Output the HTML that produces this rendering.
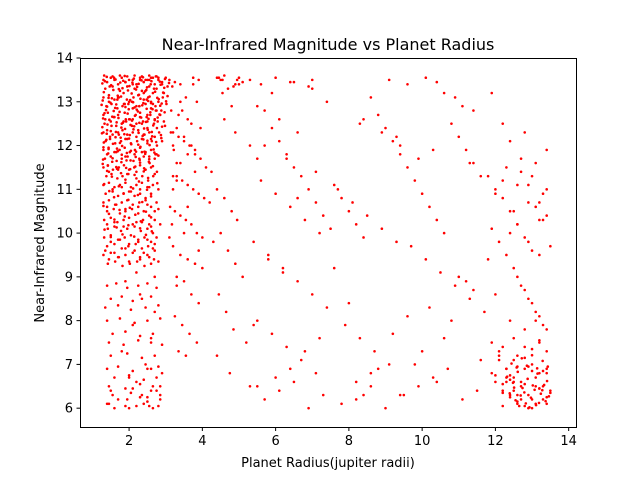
<!DOCTYPE html>
<html><head><meta charset="utf-8"><style>
body{margin:0;background:#fff;width:640px;height:480px;overflow:hidden}
svg text{font-family:"DejaVu Sans","Liberation Sans",sans-serif;fill:#000}
</style></head><body>
<svg id="chart" width="640" height="480">
<rect x="0" y="0" width="640" height="480" fill="#fff"/>
<text x="328" y="50" font-size="16" text-anchor="middle">Near-Infrared Magnitude vs Planet Radius</text>
<g id="pts"></g>
<rect x="80.5" y="58.5" width="496" height="369" fill="none" stroke="#000" stroke-width="1"/>
<g id="xt"></g>
<g id="yt"></g>
<text x="328" y="467" font-size="13" text-anchor="middle">Planet Radius(jupiter radii)</text>
<text x="44" y="243" font-size="13" text-anchor="middle" transform="rotate(-90 44 243)">Near-Infrared Magnitude</text>
</svg>
<script>
const xTicks=[2,4,6,8,10,12,14];
const yTicks=[6,7,8,9,10,11,12,13,14];
const xs=[
1.3,1.4,1.5,1.6,1.7,1.8,1.9,2.0,2.1,2.2,2.3,2.4,2.5,2.6,2.7,2.8,2.9,3.0,3.1,1.35,1.55,1.75,1.95,2.15,2.35,2.55,2.75,2.95,3.05,
1.3,1.45,1.6,1.72,1.85,2.0,2.12,2.25,2.4,2.52,2.65,2.8,2.92,1.38,1.52,1.68,1.82,1.98,2.1,2.28,2.45,2.6,2.72,2.88,3.02,
1.3,1.42,1.58,1.7,1.88,2.02,2.18,2.3,2.48,2.58,2.7,2.85,1.33,1.5,1.65,1.8,1.92,2.08,2.2,2.38,2.5,2.68,2.78,2.98,
1.3,1.4,1.55,1.7,1.82,1.95,2.1,2.25,2.42,2.55,2.7,2.82,1.36,1.48,1.62,1.78,1.9,2.05,2.22,2.35,2.5,2.62,2.76,2.9,
1.3,1.44,1.6,1.74,1.88,2.02,2.16,2.3,2.45,2.6,2.72,1.34,1.5,1.66,1.8,1.96,2.12,2.28,2.4,2.56,2.7,
1.3,1.42,1.56,1.72,1.86,2.0,2.14,2.3,2.44,2.6,2.76,1.38,1.52,1.68,1.82,1.98,2.2,2.36,2.52,2.66,
1.3,1.45,1.6,1.75,1.9,2.05,2.2,2.35,2.5,2.65,2.8,1.36,1.55,1.7,1.85,2.0,2.15,2.3,2.45,2.6,
1.3,1.45,1.62,1.8,1.95,2.1,2.28,2.45,2.6,2.75,1.4,1.58,1.75,1.9,2.08,2.25,2.4,2.55,2.7,
1.32,1.5,1.68,1.85,2.0,2.2,2.38,2.55,2.7,1.42,1.6,1.78,1.95,2.15,2.32,2.5,2.65,
1.32,1.5,1.7,1.88,2.05,2.25,2.42,2.6,2.75,1.4,1.6,1.8,1.98,2.18,2.35,2.52,2.7,
1.3,1.5,1.72,1.9,2.1,2.3,2.5,2.68,1.42,1.62,1.82,2.02,2.22,2.42,2.6,
1.32,1.55,1.75,1.95,2.15,2.35,2.55,2.75,1.45,1.68,1.88,2.08,2.28,2.48,2.65,
1.35,1.6,1.85,2.1,2.3,2.5,2.7,1.48,1.72,1.95,2.2,2.4,2.6,1.4,1.65,1.9,2.15,2.35,2.55,2.75,
1.45,1.7,1.95,2.2,2.45,2.7,1.55,1.8,2.05,2.3,2.55,1.4,1.65,1.9,2.25,2.5,2.8,
1.4,1.6,1.85,2.1,2.35,2.6,2.85,1.5,1.75,2.0,2.25,2.5,2.7,
1.35,1.6,1.9,2.15,2.4,2.65,1.45,1.7,2.0,2.3,2.55,2.8,
1.4,1.65,1.95,2.25,2.5,2.75,1.5,1.8,2.1,2.35,2.6,1.35,1.7,2.05,2.45,2.8,
1.4,1.75,2.15,2.5,2.85,1.55,1.9,2.3,2.65,1.45,1.85,2.25,2.6,2.9,1.5,1.95,2.35,2.7,
1.4,1.7,2.1,2.5,2.8,1.6,2.0,2.4,2.75,1.45,1.9,2.3,2.65,1.55,2.05,2.5,2.85,
1.45,1.9,2.4,2.8,1.6,2.2,2.65,1.4,2.0,2.55,1.7,2.3,2.85,1.5,2.1,2.6,
1.9,2.3,2.7,2.1,2.6,1.8,2.45,2.9,2.2,2.75,1.95,2.5,2.35,2.85,2.0,2.6,
2.2,2.7,2.45,2.9,2.3,2.65,1.9,2.55,2.1,2.8,2.4,1.7,2.6,2.2,2.75,2.5,2.0,2.35,
3.2,3.35,3.5,3.65,3.8,3.95,4.1,4.25,3.3,3.45,3.6,3.75,3.9,4.05,4.2,3.25,3.4,3.55,3.7,3.85,4.0,4.3,
3.2,3.4,3.6,3.8,4.0,3.3,3.5,3.7,3.9,3.25,3.45,3.65,3.85,3.35,3.55,3.75,3.95,3.3,3.6,3.9,3.4,3.7,3.2,3.5,3.8,
3.3,3.6,3.9,3.4,3.75,3.25,3.55,3.85,3.45,3.35,3.7,3.3,3.5,3.2,3.6,3.4,3.8,3.3,
4.4,4.6,4.8,4.95,4.5,4.7,4.9,5.1,4.45,4.65,4.85,5.2,4.4,4.75,5.0,4.55,4.9,4.45,5.1,4.6,4.85,4.5,5.0,4.4,4.7,4.95,4.55,4.8,4.6,4.9,
5.3,5.5,5.7,5.9,6.1,6.3,6.5,6.7,6.9,7.1,7.3,7.5,5.4,5.8,6.2,6.6,7.0,7.4,5.6,6.0,6.4,6.8,7.2,5.5,5.9,6.3,6.7,7.1,
5.3,5.7,6.1,6.5,6.9,7.3,5.5,6.0,6.4,6.8,7.2,5.4,5.8,6.2,6.6,7.0,5.6,6.0,6.5,7.0,5.3,5.9,6.4,6.9,7.4,5.5,6.1,6.6,5.7,6.3,7.1,
7.6,7.8,8.0,8.2,8.4,8.6,8.8,9.0,9.2,9.4,9.6,9.8,10.0,10.2,10.4,10.6,10.8,11.0,11.2,11.4,11.6,
7.7,8.1,8.5,8.9,9.3,9.7,10.1,10.5,10.9,11.3,11.7,7.9,8.3,8.7,9.1,9.5,9.9,10.3,10.7,11.1,11.5,
7.8,8.2,8.6,9.0,9.4,9.8,10.2,10.6,11.0,11.4,7.6,8.0,8.4,8.8,9.2,9.6,10.0,10.4,10.8,11.2,11.6,
8.2,8.6,9.1,9.6,10.1,10.6,11.1,8.4,8.9,9.4,9.9,10.4,10.9,11.4,8.3,9.3,10.3,11.3,
11.8,12.0,12.2,12.4,12.6,12.8,13.0,13.2,13.4,11.9,12.1,12.3,12.5,12.7,12.9,13.1,13.3,13.5,
11.8,12.0,12.2,12.4,12.6,12.8,13.0,13.2,13.4,11.9,12.1,12.3,12.5,12.7,12.9,13.1,13.3,12.0,12.4,12.8,13.2,12.2,12.6,13.0,13.4,
11.9,12.3,12.7,13.1,13.5,12.1,12.5,12.9,13.3,12.0,12.4,12.8,13.2,12.2,12.6,13.0,13.4,
12.0,12.2,12.4,12.6,12.8,13.0,13.2,13.4,12.1,12.3,12.5,12.7,12.9,13.1,13.3,13.5,12.2,12.4,12.6,12.8,13.0,13.2,13.4,
12.3,12.5,12.7,12.9,13.1,13.3,12.4,12.6,12.8,13.0,13.2,13.4,12.2,12.5,12.8,13.1,13.4,12.3,12.6,12.9,13.2,12.4,12.7,13.0,13.3,12.5,12.8,13.1,13.4,12.6,12.9,13.2,
11.9,12.2,12.6,12.9,13.3,12.1,12.5,12.8,13.2,12.0,12.4,12.7,13.1,13.4
];
const ys=[
13.5,13.45,13.55,13.5,13.4,13.55,13.45,13.5,13.5,13.4,13.55,13.45,13.5,13.55,13.4,13.5,13.45,13.55,13.5,13.3,13.35,13.25,13.35,13.3,13.25,13.35,13.3,13.2,13.35,
13.1,13.15,13.05,13.1,13.2,13.0,13.1,13.15,13.05,13.1,13.2,13.0,13.1,12.9,12.95,12.85,12.9,12.95,12.85,12.9,12.95,12.85,12.9,12.8,12.95,
12.7,12.75,12.65,12.7,12.75,12.6,12.7,12.75,12.65,12.7,12.6,12.7,12.5,12.55,12.45,12.5,12.55,12.45,12.5,12.55,12.4,12.5,12.55,12.45,
12.3,12.35,12.25,12.3,12.35,12.25,12.3,12.35,12.25,12.3,12.2,12.3,12.1,12.15,12.05,12.1,12.15,12.05,12.1,12.15,12.05,12.1,12.0,12.1,
11.9,11.95,11.85,11.9,11.95,11.85,11.9,11.95,11.85,11.9,11.8,11.7,11.75,11.65,11.7,11.75,11.65,11.7,11.75,11.6,11.7,
11.5,11.55,11.45,11.5,11.55,11.45,11.5,11.55,11.45,11.5,11.4,11.3,11.35,11.25,11.3,11.35,11.25,11.3,11.2,11.3,
11.1,11.15,11.05,11.1,11.15,11.05,11.1,11.15,11.05,11.1,11.0,10.9,10.95,10.85,10.9,10.95,10.85,10.9,10.8,10.9,
10.7,10.75,10.65,10.7,10.75,10.65,10.7,10.75,10.6,10.7,10.5,10.55,10.45,10.5,10.55,10.45,10.5,10.4,10.5,
10.3,10.35,10.25,10.3,10.35,10.25,10.3,10.2,10.3,10.1,10.15,10.05,10.1,10.15,10.05,10.1,10.0,
9.9,9.95,9.85,9.9,9.95,9.85,9.9,9.8,9.9,9.7,9.75,9.65,9.7,9.75,9.65,9.7,9.6,
9.5,9.55,9.45,9.5,9.55,9.45,9.5,9.4,9.3,9.35,9.25,9.3,9.35,9.25,9.3,
13.6,13.58,13.6,13.58,13.6,13.58,13.6,13.58,13.0,13.05,12.95,13.0,12.9,13.05,12.95,
12.6,12.65,12.55,12.6,12.65,12.55,12.6,12.2,12.25,12.15,12.2,12.25,12.15,11.8,11.85,11.75,11.8,11.85,11.75,11.8,
11.4,11.45,11.35,11.4,11.45,11.35,11.0,11.05,10.95,11.0,11.05,10.6,10.65,10.55,10.6,10.65,10.55,
10.2,10.25,10.15,10.2,10.25,10.15,10.2,9.8,9.85,9.75,9.8,9.85,9.75,
9.6,9.55,9.65,9.6,9.55,9.65,9.4,9.45,9.35,9.4,9.45,9.35,
8.8,8.85,8.75,8.8,8.85,8.75,8.5,8.55,8.45,8.5,8.55,8.3,8.35,8.25,8.3,8.35,
8.0,8.05,7.95,8.0,8.05,7.7,7.75,7.65,7.7,7.5,7.45,7.55,7.5,7.45,7.2,7.25,7.15,7.2,
6.9,6.95,6.85,6.9,6.95,6.7,6.75,6.65,6.7,6.5,6.45,6.55,6.5,6.3,6.35,6.25,6.3,
6.1,6.05,6.1,6.05,6.0,6.05,6.0,6.1,6.0,6.05,6.2,6.25,6.2,6.4,6.45,6.4,
8.9,8.6,8.2,7.9,7.6,7.3,7.0,6.8,6.6,6.4,6.2,6.15,6.3,6.5,6.7,6.9,9.1,9.0,
13.5,13.4,13.5,13.55,13.45,13.5,13.4,13.55,13.2,13.1,13.0,12.9,12.8,12.7,12.6,12.5,12.3,12.2,12.1,12.0,11.9,11.7,
11.5,11.4,11.3,11.2,11.1,11.0,10.9,10.8,10.7,10.5,10.4,10.3,10.2,10.0,9.9,9.8,9.7,9.5,9.4,9.3,9.2,9.0,8.9,8.6,8.4,
8.1,7.9,7.7,7.5,7.3,7.2,13.4,12.4,11.6,10.6,9.6,13.0,12.0,11.0,10.0,11.8,8.8,12.6,
13.5,13.4,13.55,13.45,13.1,13.0,12.8,12.7,12.5,12.4,12.2,12.0,11.8,11.6,11.4,11.2,11.0,10.8,10.5,10.3,10.0,9.6,9.3,9.0,8.6,8.2,7.8,7.5,7.2,6.8,
13.55,13.5,13.4,13.55,13.45,13.6,13.35,13.5,13.4,13.55,13.3,13.5,13.2,12.9,12.6,12.3,12.0,11.7,12.8,12.4,12.1,11.8,11.5,11.3,11.0,10.7,10.4,10.1,
9.8,9.5,9.2,8.9,8.6,8.3,11.2,10.9,10.6,10.3,10.0,8.0,7.7,7.4,7.1,6.8,6.5,6.2,6.4,6.6,6.0,6.3,6.5,6.7,6.9,7.3,7.6,7.9,9.4,9.1,10.8,
13.5,13.4,13.55,13.45,13.3,13.5,13.2,13.45,13.35,13.0,12.9,12.6,12.3,12.0,11.7,11.4,11.1,10.8,10.5,10.2,9.9,
13.1,12.7,12.4,12.1,11.8,11.5,11.2,10.9,10.6,10.3,10.0,12.5,12.2,11.9,11.6,11.3,11.0,10.7,10.4,10.1,9.8,
9.7,9.4,9.1,8.8,8.5,8.2,7.9,7.6,7.3,7.0,6.3,6.5,6.7,6.9,6.2,6.4,6.1,6.6,6.8,6.0,6.3,
7.0,8.3,7.6,9.0,8.7,9.2,8.4,6.3,6.9,7.7,8.1,7.3,6.6,8.0,8.9,7.1,6.2,6.5,
13.5,13.4,13.55,13.2,12.9,12.6,12.3,12.0,11.7,13.45,13.1,12.8,12.5,12.2,11.9,11.6,11.3,11.0,
10.8,10.5,10.2,9.9,9.6,10.7,10.4,10.1,9.8,9.5,9.2,11.4,11.1,10.6,10.3,9.7,9.4,10.9,11.2,10.0,
9.0,8.7,8.4,8.1,7.8,7.5,7.2,6.9,6.6,8.8,8.5,8.2,7.9,8.6,8.0,7.4,6.8,
7.4,7.2,7.0,6.9,6.8,6.7,6.6,6.5,6.4,7.3,7.1,6.95,6.85,6.75,6.65,6.55,6.45,6.35,6.3,6.2,6.1,
6.6,6.4,6.25,6.15,6.05,6.0,7.5,7.3,7.1,6.9,6.7,6.5,6.3,6.1,6.2,6.35,6.55,6.75,6.95,7.15,7.35,7.55,
6.8,6.6,6.4,6.2,6.0,6.7,6.5,6.3,6.1,6.9,6.85,6.45,6.25,6.05,7.6,7.8,8.0,
11.9,11.5,11.1,10.7,10.3,12.1,11.7,11.3,10.9,10.5,12.3,11.6,11.0,10.2,9.8,9.5,13.2,12.5
];
/* additional readings from the densest region, as [radius, magnitude] pairs */
const extraPts=[
[1.27,13.42],[1.39,13.57],[1.51,13.38],[1.63,13.51],[1.76,13.44],[1.88,13.59],[2.01,13.36],[2.13,13.53],[2.26,13.41],[2.38,13.56],[2.49,13.33],[2.61,13.47],[2.73,13.58],[2.86,13.39],[2.98,13.52],[3.09,13.43],
[1.31,13.22],[1.44,13.09],[1.57,13.27],[1.69,13.14],[1.82,13.31],[1.94,13.05],[2.07,13.19],[2.19,13.28],[2.31,13.07],[2.44,13.24],[2.56,13.12],[2.68,13.3],[2.81,13.06],[2.93,13.21],[3.05,13.13],
[1.25,12.93],[1.37,12.81],[1.49,12.98],[1.62,12.86],[1.74,12.77],[1.86,12.95],[1.99,12.83],[2.11,12.99],[2.24,12.78],[2.36,12.92],[2.48,12.84],[2.6,12.97],[2.73,12.8],[2.85,12.91],[2.97,12.76],
[1.29,12.62],[1.41,12.48],[1.54,12.66],[1.66,12.53],[1.79,12.41],[1.91,12.6],[2.04,12.47],[2.16,12.68],[2.28,12.52],[2.41,12.39],[2.53,12.61],[2.66,12.46],[2.78,12.64],[2.9,12.43],
[1.26,12.28],[1.38,12.13],[1.5,12.33],[1.63,12.19],[1.75,12.06],[1.87,12.26],[2.0,12.16],[2.12,12.37],[2.25,12.02],[2.37,12.22],[2.5,12.11],[2.62,12.31],[2.74,12.08],[2.87,12.24],
[1.3,11.96],[1.43,11.82],[1.55,11.71],[1.67,11.93],[1.8,11.79],[1.93,11.66],[2.05,11.88],[2.18,11.74],[2.3,11.61],[2.42,11.86],[2.55,11.69],[2.67,11.91],[2.8,11.77],
[1.28,11.58],[1.4,11.42],[1.53,11.29],[1.65,11.51],[1.78,11.37],[1.9,11.22],[2.03,11.46],[2.15,11.33],[2.27,11.18],[2.4,11.41],[2.52,11.26],[2.65,11.53],[2.77,11.14],
[1.32,11.12],[1.46,10.96],[1.59,10.82],[1.72,11.07],[1.85,10.91],[1.98,10.76],[2.11,11.02],[2.24,10.87],[2.36,10.71],[2.49,10.99],[2.6,10.84],
[1.34,13.47],[1.47,13.35],[1.59,13.55],[1.72,13.29],[1.84,13.48],[1.97,13.26],[2.09,13.44],[2.22,13.34],[2.34,13.49],[2.47,13.27],[2.59,13.4],[2.71,13.23],[2.84,13.46],[2.96,13.32],
[1.28,13.03],[1.4,12.89],[1.53,13.08],[1.65,12.94],[1.78,13.12],[1.9,12.88],[2.03,13.04],[2.15,12.87],[2.27,13.16],[2.39,12.97],[2.52,13.02],[2.64,12.83],[2.77,13.09],[2.89,12.96],[3.01,13.01],
[1.33,12.74],[1.46,12.59],[1.58,12.79],[1.71,12.63],[1.83,12.52],[1.96,12.73],[2.08,12.57],[2.21,12.82],[2.33,12.64],[2.46,12.54],[2.58,12.76],[2.7,12.58],[2.83,12.71],[2.95,12.55],
[1.27,12.42],[1.39,12.27],[1.52,12.45],[1.64,12.31],[1.77,12.18],[1.89,12.38],[2.02,12.24],[2.14,12.44],[2.26,12.29],[2.39,12.14],[2.51,12.36],[2.63,12.21],[2.76,12.4],[2.88,12.17],
[1.31,12.07],[1.44,11.92],[1.56,12.04],[1.69,11.87],[1.81,11.99],[1.94,11.83],[2.06,12.03],[2.19,11.86],[2.31,11.97],[2.44,11.81],[2.56,12.01],[2.69,11.84],
[1.29,11.68],[1.42,11.54],[1.54,11.63],[1.67,11.47],[1.79,11.62],[1.92,11.49],[2.04,11.66],[2.17,11.52],[2.29,11.67],[2.41,11.48],[2.54,11.63],
[1.3,10.62],[1.45,10.44],[1.6,10.31],[1.74,10.53],[1.88,10.38],[2.02,10.58],[2.17,10.42],[2.32,10.27],[2.46,10.49],[2.6,10.36],
[1.33,10.08],[1.5,9.91],[1.66,10.13],[1.82,9.97],[1.98,10.18],[2.14,9.92],[2.3,10.11],[2.46,9.96],[2.62,10.04],
[3.15,12.8],[3.22,11.9],[3.18,13.35],[3.12,10.6],[3.2,11.3],[3.14,12.3],[3.1,9.9],[3.17,10.2],
[12.32,6.72],[12.48,6.58],[12.61,6.83],[12.74,6.46],[12.88,6.67],[13.02,6.52],[13.15,6.79],[13.28,6.41],[13.41,6.62],[12.39,6.34],[12.55,6.18],[12.69,6.29],[12.83,6.11],[12.97,6.24],[13.11,6.07],[13.24,6.33],[13.37,6.16],
[12.44,7.02],[12.58,6.93],[12.72,7.14],[12.86,6.97],[13.0,7.21],[13.14,6.91],[13.29,7.08],[13.43,6.95],[12.51,6.47],[12.79,6.36],[13.07,6.42],[13.33,6.53],[12.65,6.05],[12.93,6.02],[13.19,6.12],[13.46,6.27]
];
const X0=0.66,X1=14.2,Y0=5.57,Y1=14;
const L=80,R=576,T=58,B=427;
function sx(v){return L+(v-X0)/(X1-X0)*(R-L);}
function sy(v){return B-(v-Y0)/(Y1-Y0)*(B-T);}
const NS="http://www.w3.org/2000/svg";
const g=document.getElementById('pts');
function addPt(xv,yv){
  const c=document.createElementNS(NS,'circle');
  c.setAttribute('cx',sx(xv));c.setAttribute('cy',sy(yv));
  c.setAttribute('r',1.3);c.setAttribute('fill','#ff0000');
  
  
  g.appendChild(c);
}
const n=Math.min(xs.length,ys.length);
for(let i=0;i<n;i++){addPt(xs[i],ys[i]);}
extraPts.forEach(p=>addPt(p[0],p[1]));
const xt=document.getElementById('xt');
xTicks.forEach(t=>{
  const x=sx(t);
  const l=document.createElementNS(NS,'line');
  l.setAttribute('x1',x);l.setAttribute('x2',x);l.setAttribute('y1',B+0.5);l.setAttribute('y2',B+4);l.setAttribute('stroke','#000');
  
  
  xt.appendChild(l);
  const tx=document.createElementNS(NS,'text');
  tx.setAttribute('x',x);tx.setAttribute('y',B+18);tx.setAttribute('font-size','13');tx.setAttribute('text-anchor','middle');
  tx.textContent=t;
  
  
  xt.appendChild(tx);
});
const yt=document.getElementById('yt');
yTicks.forEach(t=>{
  const y=sy(t);
  const l=document.createElementNS(NS,'line');
  l.setAttribute('x1',L-3.5);l.setAttribute('x2',L+0.5);l.setAttribute('y1',y);l.setAttribute('y2',y);l.setAttribute('stroke','#000');
  
  
  yt.appendChild(l);
  const tx=document.createElementNS(NS,'text');
  tx.setAttribute('x',L-7);tx.setAttribute('y',y+4.5);tx.setAttribute('font-size','13');tx.setAttribute('text-anchor','end');
  tx.textContent=t;
  
  
  yt.appendChild(tx);
});
</script>
</body></html>
